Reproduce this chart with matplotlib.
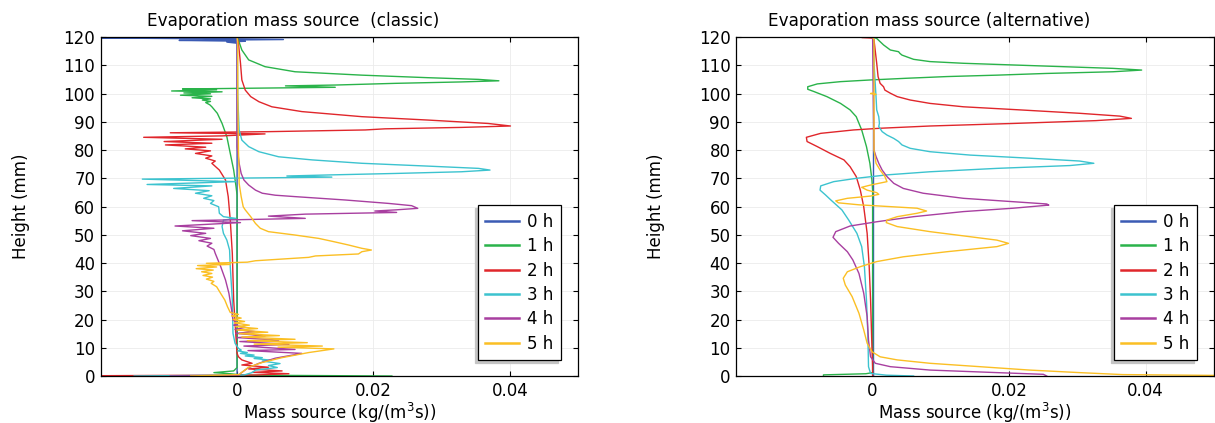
import matplotlib.pyplot as plt
import numpy as np

# ---- data: height (mm) and mass source (kg/(m^3 s)) per profile ----
labels = ['0 h', '1 h', '2 h', '3 h', '4 h', '5 h']
colors = ['#3b5bb4', '#2ab34a', '#e0262b', '#3cc3cf', '#a83fa0', '#fbbf24']

# classic model
c0_h = [0, 117.8, 118.2, 118.5, 118.8, 119.1, 119.4, 119.7, 120.0]
c0_v = [0, 0, -0.0015, 0.0012, -0.0085, 0.0068, -0.006, -0.022, 0.06]

c1_h = [120, 118.9, 115.4, 111.9, 109.5, 107.7, 106.5, 105.6, 105.0, 104.5, 104.1, 103.6,
        103.0, 102.7, 102.2, 101.9, 101.6, 101.3, 100.9, 100.6, 100.2, 99.9, 99.4, 99.0,
        98.5, 98.1, 97.7, 97.2, 96.8, 96.0, 95.3, 93.0, 89.4, 84.7, 78.8, 72.9, 67.0, 64.0,
        3.0, 1.8, 1.2, 0.8, 0.3, 0]
c1_v = [0, 0.0002, 0.0007, 0.0017, 0.0041, 0.0085, 0.0183, 0.028, 0.0354, 0.0384, 0.0329, 0.0232,
        0.0144, 0.0071, 0.0144, 0.0030, -0.0080, -0.0030, -0.0096, -0.0022, -0.0078, -0.0039, -0.0083, -0.0037,
        -0.0066, -0.0039, -0.0051, -0.0039, -0.0046, -0.0040, -0.0037, -0.0029, -0.0022, -0.0015, -0.001, -0.0005, -0.00015, 0,
        0, -0.0005, -0.0034, -0.001, 0.001, 0.0227]

c2_h = [120, 117.8, 110.7, 104.8, 101.2, 98.9, 97.1, 95.3, 93.6, 91.8, 90.6, 89.4, 88.5, 88.0,
        87.5, 87.1, 86.5, 86.1, 85.7, 85.0, 84.5, 83.8, 83.0, 82.4, 81.8, 81.0, 80.4, 79.7,
        78.8, 77.9, 77.1, 76.1, 75.3, 72.9, 69.4, 63.5, 55.2, 43.4, 26.9, 15.1, 8.0,
        6.8, 5.7, 4.5, 3.9, 3.1, 2.5, 1.8, 1.3, 0.8, 0.35, 0]
c2_v = [0, 0.0002, 0.0005, 0.0007, 0.0012, 0.002, 0.0032, 0.0051, 0.0095, 0.0183, 0.028, 0.0368, 0.0401, 0.0329,
        0.0217, 0.0188, 0.0046, -0.0098, 0.0041, -0.0022, -0.0137, -0.0022, -0.0107, -0.0037, -0.0105, -0.0046, -0.0076, -0.0039,
        -0.0061, -0.0037, -0.0046, -0.0032, -0.0037, -0.0026, -0.0017, -0.0013, -0.001, -0.0007, -0.0005, -0.0002, 0,
        0.0002, 0.0007, 0.0022, 0.0007, 0.0046, 0.0017, 0.0066, 0.0022, 0.0076, 0.0027, -0.03]

c3_h = [120, 98.9, 87.1, 83.5, 81.2, 79.4, 77.6, 76.5, 75.3, 74.3, 73.5, 72.9, 72.3, 71.7, 71.2,
        70.8, 70.4, 69.7, 68.8, 67.8, 67.3, 66.4, 65.6, 64.7, 63.8, 62.9, 62.1, 61.1, 59.9,
        57.6, 56.4, 55.8, 55.2, 52.9, 50.5, 48.1, 44.6, 38.7, 26.9, 15.1, 11.6,
        9.8, 9.2, 8.9, 8.3, 8.0, 7.4, 7.1, 6.5, 6.2, 5.6, 5.3, 4.4, 3.7, 3.0, 2.1, 1.2, 0.35, 0]
c3_v = [0, 0.0001, 0.0003, 0.0007, 0.0017, 0.0032, 0.0061, 0.011, 0.0183, 0.028, 0.0354, 0.0371, 0.0329, 0.0232, 0.0139,
        0.0073, 0.0139, -0.0139, -0.0002, -0.0132, -0.0037, -0.0093, -0.0041, -0.0061, -0.0037, -0.0049, -0.0034, -0.0039, -0.0027,
        -0.0026, -0.002, -0.0002, -0.002, -0.0022, -0.002, -0.0015, -0.0011, -0.001, -0.0007, -0.0006, -0.0003,
        0.0002, 0.0006, 0.0001, 0.0015, 0.0005, 0.0025, 0.0012, 0.0037, 0.0025, 0.005, 0.0037, 0.0063, 0.0046, 0.0059, 0.0027, 0.0022, 0.001, -0.0151]

c4_h = [120, 81.2, 75.3, 71.7, 69.4, 67.6, 65.8, 64.7, 64.0, 63.5, 62.3, 61.1, 60.3, 59.35,
        58.8, 58.4, 57.9, 57.3, 56.6, 55.8, 55.0, 54.3, 53.1, 52.3, 51.4, 50.5, 49.7, 48.7,
        47.9, 47.0, 46.0, 44.8, 43.4, 38.7, 34.0, 29.3, 23.4, 19.8,
        18.6, 18.0, 17.2, 16.5, 15.7, 15.1, 14.2, 13.6, 12.7, 12.2, 11.2, 10.6, 9.4, 9.0,
        8.0, 6.3, 4.5, 2.7, 0.9, 0.2, 0]
c4_v = [0, 0, 0.0003, 0.0006, 0.001, 0.0017, 0.0027, 0.0037, 0.0056, 0.0085, 0.0159, 0.0222, 0.0256, 0.0265,
        0.0232, 0.0202, 0.0234, 0.01, 0.0046, 0.01, -0.0066, 0.0005, -0.0091, -0.0034, -0.008, -0.0046, -0.0068, -0.0039,
        -0.0056, -0.0037, -0.0044, -0.0034, -0.0032, -0.0024, -0.0017, -0.0012, -0.0008, -0.0006,
        0.0002, -0.0005, 0.0012, -0.0003, 0.0027, -0.0002, 0.0041, 0.0, 0.0061, 0.0004, 0.0076, 0.001, 0.0085, 0.0016,
        0.0095, 0.0056, 0.0032, 0.0015, 0.0005, 0.0002, -0.0098]

c5_h = [120, 118, 100, 80, 72, 68.2, 63.5, 59.9, 58.8, 56.4, 54.0, 52.3, 51.1, 49.9, 48.7, 47.6,
        46.4, 45.2, 44.6, 44.0, 43.2, 42.5, 42.0, 41.4, 40.8, 40.3, 39.9, 39.5, 39.1, 38.6, 38.0,
        37.5, 36.9, 36.3, 35.6, 35.0, 34.3, 33.5, 32.8, 31.6, 29.2, 26.9, 24.5, 22.5,
        21.8, 21.3, 20.5, 20.0, 19.3, 18.8, 18.0, 17.5, 16.8, 16.3, 15.5, 15.0, 14.3, 13.8,
        13.0, 12.5, 11.8, 11.3, 10.6, 10.2, 9.6, 8.3, 6.5, 4.8, 3.1, 1.3, 0.5, 0]
c5_v = [0, 0.0001, 0.0001, 0.0002, 0.0003, 0.0003, 0.0006, 0.0009, 0.0012, 0.002, 0.0027, 0.0034, 0.0046, 0.0085, 0.012, 0.0141,
        0.0163, 0.0183, 0.0197, 0.0183, 0.0178, 0.0115, 0.0105, 0.0066, 0.0027, 0.0015, -0.0045, -0.001, -0.0058, -0.003, -0.006,
        -0.0035, -0.0052, -0.0037, -0.005, -0.0036, -0.0045, -0.0034, -0.0038, -0.003, -0.0024, -0.0018, -0.0014, -0.001,
        0.0002, -0.0008, 0.0006, -0.0006, 0.0011, -0.0004, 0.0018, -0.0002, 0.003, 0.0, 0.0045, 0.0003, 0.0062, 0.0007,
        0.0085, 0.0015, 0.0103, 0.0025, 0.0125, 0.006, 0.0142, 0.0105, 0.0066, 0.0037, 0.0017, 0.0007, 0.0003, -0.0068]

# alternative model
a0_h = [0, 120]
a0_v = [0, 0]

a1_h = [120, 119.5, 117.2, 115.4, 114.8, 114.2, 113.6, 112.1, 111.3, 110.7, 110.1, 109.5, 108.9, 108.3,
        107.7, 107.1, 106.5, 106.0, 105.4, 104.8, 104.2, 103.4, 102.4, 101.5, 100.7, 98.9, 96.5, 94.2,
        91.8, 87.1, 81.2, 75.3, 69.4, 65.8, 1.2, 0.8, 0.4, 0]
a1_v = [0, 0.0006, 0.0016, 0.0026, 0.0038, 0.004, 0.0043, 0.006, 0.0084, 0.0133, 0.0206, 0.0279, 0.0352, 0.0394,
        0.0352, 0.0254, 0.0182, 0.0109, 0.005, -0.0003, -0.0047, -0.0081, -0.0095, -0.0095, -0.0086, -0.0067, -0.0047, -0.0033,
        -0.0024, -0.0016, -0.0009, -0.0004, -0.0001, 0, 0, -0.001, -0.0072, -0.0072]

a2_h = [120, 119.85, 119.6, 119, 110.7, 106, 103.6, 102.4, 101.2, 100.1, 98.9, 97.7, 96.5, 95.3, 94.2,
        93.0, 92.0, 91.2, 90.4, 89.4, 88.5, 87.7, 87.1, 85.9, 84.5, 83.0, 81.2, 78.8, 76.5, 74.1,
        70.6, 65.8, 59.9, 50.5, 38.7, 26.9, 10.4, 3.3, 0]
a2_v = [0.0016, -0.0016, 0, 0.0002, 0.0006, 0.0008, 0.0011, 0.0016, 0.0018, 0.0026, 0.0036, 0.0055, 0.0084, 0.0133, 0.0216,
        0.0303, 0.0362, 0.0379, 0.0327, 0.0206, 0.0084, 0.0011, -0.0028, -0.0076, -0.0097, -0.0096, -0.0081, -0.0062, -0.0042, -0.0033,
        -0.0024, -0.0018, -0.0013, -0.0008, -0.0005, -0.0003, -0.0001, 0, 0]

a3_h = [120, 110.7, 98.9, 94.2, 91.8, 89.5, 88.3, 86.5, 85.3, 84.1, 83.0, 81.8, 80.6, 79.4, 78.2,
        77.1, 76.1, 75.3, 74.5, 73.5, 72.3, 71.2, 70.0, 68.8, 67.3, 65.8, 64.1, 62.5, 60.1, 58.8,
        55.2, 50.5, 45.8, 38.7, 26.9, 15.1, 3.3, 0.9, 0.3, 0]
a3_v = [0, 0.0002, 0.0005, 0.0006, 0.0009, 0.001, 0.0009, 0.0014, 0.0021, 0.0031, 0.0038, 0.0043, 0.0055, 0.0084, 0.0143,
        0.023, 0.0303, 0.0324, 0.0289, 0.0182, 0.0084, 0.0021, -0.0023, -0.0057, -0.0076, -0.0077, -0.0069, -0.0062, -0.0051, -0.0045,
        -0.0035, -0.0023, -0.0016, -0.0012, -0.0009, -0.0007, -0.0006, -0.0003, 0.002, 0.006]

a4_h = [120, 80, 77.7, 75.3, 72.9, 70.6, 68.2, 66.4, 64.7, 62.9, 61.7, 60.9, 60.5, 59.4, 58.2,
        56.4, 54.6, 53.1, 51.1, 49.1, 47.0, 44.0, 41.1, 36.3, 29.3, 21.0, 12.7, 6.8, 4.5, 3.3,
        2.1, 1.2, 0.6, 0]
a4_v = [0, 0.0002, 0.0005, 0.0009, 0.0014, 0.0021, 0.0031, 0.0045, 0.0074, 0.0133, 0.0206, 0.0255, 0.0258, 0.0206, 0.0133,
        0.006, 0.0006, -0.0033, -0.0054, -0.0058, -0.005, -0.0037, -0.0029, -0.002, -0.0013, -0.0008, -0.0006, -0.0003, 0.0004, 0.0026,
        0.0084, 0.0182, 0.025, 0.0255]

a5_h = [120, 119, 100.2, 100.0, 99.7, 99.5, 80, 75.3, 72.9, 70.6, 68.8, 67.6, 66.8, 65.8, 64.9, 64.3,
        63.7, 62.9, 62.0, 61.3, 60.6, 59.4, 58.4, 57.6, 56.4, 55.2, 54.3, 52.9, 51.1, 49.3, 48.1,
        46.96, 45.8, 44.0, 42.2, 40.5, 38.7, 36.9, 34.6, 32.2, 28.1, 22.2, 16.3, 11.6, 8.6, 6.8,
        5.7, 4.5, 3.3, 2.1, 1.2, 0.5, 0]
a5_v = [0, 0.0002, 0.0002, -0.0003, 0.0005, 0.0002, 0.0002, 0.0005, 0.0011, 0.0018, 0.0021, -0.0003, -0.0016, -0.0008, 0.0006, 0.0009,
        -0.0003, -0.0037, -0.0054, -0.005, -0.002, 0.0065, 0.0079, 0.0065, 0.0036, 0.0021, 0.002, 0.0036, 0.0084, 0.0143, 0.0182,
        0.0199, 0.0182, 0.0109, 0.0045, 0.0006, -0.0018, -0.0037, -0.0043, -0.004, -0.003, -0.002, -0.0013, -0.0008, -0.0001, 0.0011,
        0.0036, 0.0084, 0.0157, 0.023, 0.0303, 0.0366, 0.06]

classic = [(c0_h, c0_v), (c1_h, c1_v), (c2_h, c2_v), (c3_h, c3_v), (c4_h, c4_v), (c5_h, c5_v)]
alternative = [(a0_h, a0_v), (a1_h, a1_v), (a2_h, a2_v), (a3_h, a3_v), (a4_h, a4_v), (a5_h, a5_v)]

plt.rcParams['font.family'] = 'DejaVu Sans'

fig = plt.figure(figsize=(12.15, 4.23), dpi=100)
ax1 = fig.add_axes([0.0829, 0.1111, 0.3928, 0.8014])
ax2 = fig.add_axes([0.6058, 0.1111, 0.3934, 0.8014])


def draw(ax, series, title):
    for (h, v), lab, col in zip(series, labels, colors):
        ax.plot(np.array(v), np.array(h), color=col, lw=1.0, label=lab)
    ax.set_xlim(-0.02, 0.05)
    ax.set_ylim(0, 120)
    ax.set_xticks([0, 0.02, 0.04])
    ax.set_xticklabels(['0', '0.02', '0.04'])
    ax.set_yticks(np.arange(0, 121, 10))
    ax.tick_params(direction='in', length=3.6, width=0.8, top=True, right=True,
                   labelsize=12, pad=4, colors='black')
    ax.grid(True, color='#ebebeb', lw=0.6)
    ax.set_axisbelow(True)
    for s in ax.spines.values():
        s.set_linewidth(0.9)
    # title sits left of the axes centre, as in the source
    ax.set_title(title, fontsize=12.2, pad=8, x=0.403)
    ax.set_xlabel('Mass source (kg/(m$^3$s))', fontsize=12, labelpad=1)
    ax.set_ylabel('Height (mm)', fontsize=12, labelpad=24)
    leg = ax.legend(loc='lower right', bbox_to_anchor=(0.964, 0.047), borderaxespad=0,
                    fontsize=12, fancybox=False, framealpha=1, edgecolor='black',
                    handlelength=2.0, handletextpad=0.5, labelspacing=0.38,
                    borderpad=0.45,
                    shadow={'ox': -2.2, 'oy': -2.2, 'color': '#c4c4c4', 'alpha': 1})
    leg.get_frame().set_linewidth(0.9)
    for ln in leg.get_lines():
        ln.set_linewidth(1.8)


draw(ax1, classic, 'Evaporation mass source  (classic)')
draw(ax2, alternative, 'Evaporation mass source (alternative)')

fig.savefig('out.png', dpi=100)
